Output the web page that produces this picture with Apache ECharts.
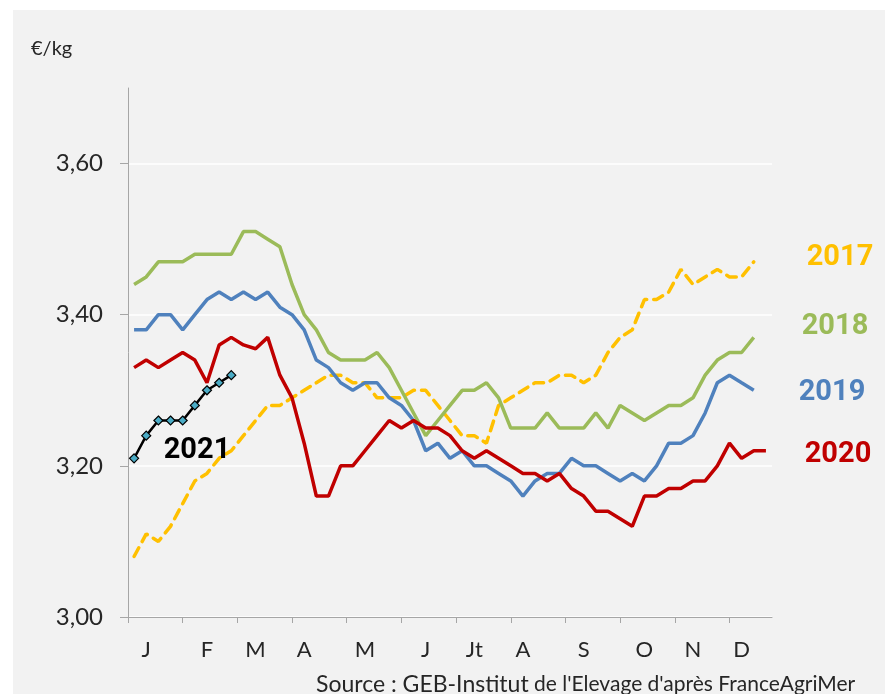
<!DOCTYPE html>
<html>
<head>
<meta charset="utf-8">
<script src="https://cdn.jsdelivr.net/npm/echarts@6/dist/echarts.min.js"></script>
<style>
  html, body { margin: 0; padding: 0; background: #fff; }
  #chart { width: 885px; height: 694px; }
</style>
</head>
<body>
<div id="chart"></div>
<script>
// semaines de l'année (2020 en compte 53)
var weeks = [1,2,3,4,5,6,7,8,9,10,11,12,13,14,15,16,17,18,19,20,21,22,23,24,25,26,
  27,28,29,30,31,32,33,34,35,36,37,38,39,40,41,42,43,44,45,46,47,48,49,50,51,52,53];

// mois affichés sous l'axe, et semaine où chaque lettre est posée
var monthLabels = ['J','F','M','A','M','J','Jt','A','S','O','N','D'];
var monthWeeks = [2,7,11,15,20,25,29,33,38,43,47,51];

var yTicks = [3.00, 3.20, 3.40, 3.60];

// prix hebdomadaires, €/kg
var prix2017 = [3.08,3.11,3.10,3.12,3.15,3.18,3.19,3.21,3.22,3.24,3.26,3.28,3.28,3.29,3.30,3.31,3.32,3.32,
  3.31,3.31,3.29,3.29,3.29,3.30,3.30,3.28,3.26,3.24,3.24,3.23,3.28,3.29,3.30,3.31,3.31,3.32,
  3.32,3.31,3.32,3.35,3.37,3.38,3.42,3.42,3.43,3.46,3.44,3.45,3.46,3.45,3.45,3.47];
var prix2018 = [3.44,3.45,3.47,3.47,3.47,3.48,3.48,3.48,3.48,3.51,3.51,3.50,3.49,3.44,3.40,3.38,3.35,3.34,
  3.34,3.34,3.35,3.33,3.30,3.27,3.24,3.26,3.28,3.30,3.30,3.31,3.29,3.25,3.25,3.25,3.27,3.25,
  3.25,3.25,3.27,3.25,3.28,3.27,3.26,3.27,3.28,3.28,3.29,3.32,3.34,3.35,3.35,3.37];
var prix2019 = [3.38,3.38,3.40,3.40,3.38,3.40,3.42,3.43,3.42,3.43,3.42,3.43,3.41,3.40,3.38,3.34,3.33,3.31,
  3.30,3.31,3.31,3.29,3.28,3.26,3.22,3.23,3.21,3.22,3.20,3.20,3.19,3.18,3.16,3.18,3.19,3.19,
  3.21,3.20,3.20,3.19,3.18,3.19,3.18,3.20,3.23,3.23,3.24,3.27,3.31,3.32,3.31,3.30];
var prix2020 = [3.33,3.34,3.33,3.34,3.35,3.34,3.31,3.36,3.37,3.36,3.355,3.37,3.32,3.29,3.23,3.16,3.16,3.20,
  3.20,3.22,3.24,3.26,3.25,3.26,3.25,3.25,3.24,3.22,3.21,3.22,3.21,3.20,3.19,3.19,3.18,3.19,
  3.17,3.16,3.14,3.14,3.13,3.12,3.16,3.16,3.17,3.17,3.18,3.18,3.20,3.23,3.21,3.22,3.22];
var prix2021 = [3.21,3.24,3.26,3.26,3.26,3.28,3.30,3.31,3.32];

var txt = '#262626';
var axisGrey = '#A6A6A6';
var baseFont = 'Lato, "Open Sans", sans-serif';

// repères de mois sur l'axe : tous les 4,5 semaines
var monthTicks = [];
for (var k = 0; k < 12; k++) monthTicks.push(k * 4.5);

function yearLabel(text, color, x, y) {
  return {
    type: 'text', x: x, y: y, z: 50,
    style: { text: text, fill: color, font: 'bold 29px Roboto, sans-serif',
             textAlign: 'center', textVerticalAlign: 'middle' }
  };
}

var myChart = echarts.init(document.getElementById('chart'));
myChart.setOption({
  animation: false,
  graphic: [
    { type: 'rect', z: -100, silent: true,
      shape: { x: 13, y: 10, width: 872, height: 684 },
      style: { fill: '#F2F2F2' } },
    { type: 'text', x: 31, y: 39, style: { text: '€/kg', fill: txt, font: '20px ' + baseFont } },
    yearLabel('2017', '#FFC000', 840, 258),
    yearLabel('2018', '#9BBB59', 835, 327),
    yearLabel('2019', '#4F81BD', 832, 393),
    yearLabel('2020', '#C00000', 838, 455),
    yearLabel('2021', '#000000', 197, 451),
    { type: 'text', x: 316, y: 673, z: 50,
      style: {
        text: '{a|Source : GEB-Institut}{b| de l\'Elevage d\'après FranceAgriMer}',
        rich: {
          a: { fontSize: 23, fontFamily: baseFont, fill: txt },
          b: { fontSize: 21, fontFamily: baseFont, fill: txt }
        }
      } }
  ],
  grid: { left: 128, right: 113, top: 88, bottom: 77 },
  xAxis: [
    {
      type: 'category',
      position: 'bottom',
      data: weeks,
      boundaryGap: true,
      axisLine: { lineStyle: { color: axisGrey, width: 1 } },
      axisTick: { show: false },
      axisLabel: {
        interval: function (idx) { return monthWeeks.indexOf(weeks[idx]) >= 0; },
        formatter: function (v) { return monthLabels[monthWeeks.indexOf(Number(v))]; },
        color: txt, fontSize: 22, fontFamily: baseFont, margin: 22
      },
      splitLine: { show: false }
    },
    {
      type: 'value',
      position: 'bottom',
      min: 0, max: 53,
      axisLine: { show: false },
      axisTick: { show: true, length: 6, customValues: monthTicks,
                  lineStyle: { color: axisGrey } },
      axisLabel: { show: false },
      splitLine: { show: false }
    }
  ],
  yAxis: {
    type: 'value',
    min: 3.0, max: 3.7,
    axisLine: { show: true, lineStyle: { color: axisGrey, width: 1 } },
    axisTick: { show: true, length: 8, customValues: yTicks,
                lineStyle: { color: axisGrey } },
    axisLabel: {
      customValues: yTicks,
      formatter: function (v) { return v.toFixed(2).replace('.', ','); },
      color: txt, fontSize: 24, fontFamily: baseFont, margin: 25
    },
    splitLine: { show: true, lineStyle: { color: '#FFFFFF', width: 1.5 } }
  },
  series: [
    { name: '2017', type: 'line', data: prix2017, symbol: 'none',
      lineStyle: { color: '#FFC000', width: 3.5, type: [10, 7], cap: 'round' } },
    { name: '2018', type: 'line', data: prix2018, symbol: 'none',
      lineStyle: { color: '#9BBB59', width: 3.5 } },
    { name: '2019', type: 'line', data: prix2019, symbol: 'none',
      lineStyle: { color: '#4F81BD', width: 3.5 } },
    { name: '2020', type: 'line', data: prix2020, symbol: 'none',
      lineStyle: { color: '#C00000', width: 3.5 } },
    { name: '2021', type: 'line', data: prix2021, symbol: 'diamond', symbolSize: 9,
      showSymbol: true, showAllSymbol: true,
      lineStyle: { color: '#000000', width: 2.5 },
      itemStyle: { color: '#4BACC6', borderColor: '#000000', borderWidth: 1.2 } }
  ]
});
</script>
</body>
</html>
